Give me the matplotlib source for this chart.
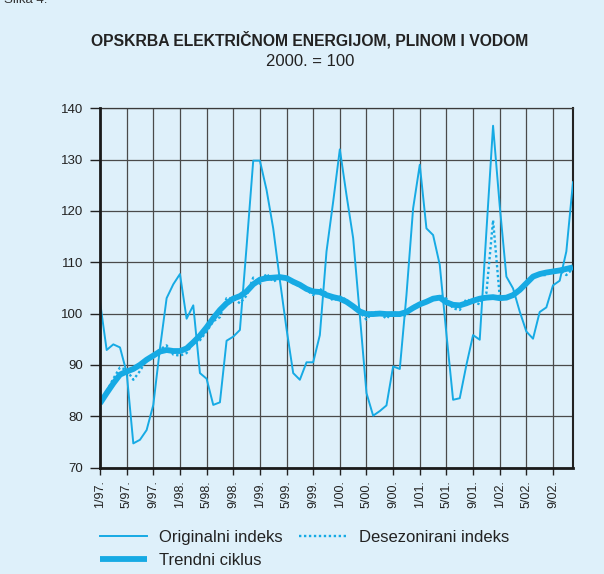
import matplotlib
matplotlib.use("Agg")
import matplotlib.pyplot as plt
import numpy as np

plt.rcParams['font.family'] = ['Liberation Sans', 'DejaVu Sans']

tick_labels = ["1/97.", "5/97.", "9/97.", "1/98.", "5/98.", "9/98.", "1/99.", "5/99.",
               "9/99.", "1/00.", "5/00.", "9/00.", "1/01.", "5/01.", "9/01.", "1/02.",
               "5/02.", "9/02."]

original = [102.3, 92.9, 94.0, 93.4, 88.5, 74.7, 75.4, 77.3, 82.2, 93.2, 103.0, 105.7,
            107.7, 99.0, 101.6, 88.4, 87.3, 82.2, 82.7, 94.7, 95.5, 96.8, 113.0, 129.8,
            129.8, 124.1, 116.6, 106.5, 97.0, 88.4, 87.1, 90.5, 90.5, 95.8, 112.1, 121.8,
            132.0, 123.1, 114.7, 99.7, 84.5, 80.1, 81.0, 82.1, 89.7, 89.2, 103.6, 120.5,
            129.0, 116.6, 115.3, 109.5, 96.0, 83.2, 83.5, 90.0, 95.8, 94.9, 116.0, 136.6,
            121.0, 107.2, 104.9, 100.4, 96.5, 95.1, 100.3, 101.2, 105.5, 106.4, 112.1, 125.6]

desezonirani = [82.3, 84.8, 87.3, 89.5, 89.0, 87.1, 88.8, 91.0, 92.0, 93.0, 93.8, 92.0,
                91.8, 92.3, 94.3, 94.8, 96.5, 98.5, 99.3, 103.0, 103.0, 102.0, 103.5, 107.0,
                105.8, 107.8, 106.2, 107.0, 106.9, 105.9, 105.3, 104.6, 103.6, 104.8, 104.0, 102.5,
                103.3, 102.7, 101.0, 100.3, 98.8, 100.4, 100.1, 99.0, 100.4, 99.7, 99.6, 101.4,
                102.0, 102.2, 102.7, 103.6, 102.9, 101.0, 100.7, 102.8, 102.3, 101.8, 104.0, 118.2,
                103.3, 103.0, 103.3, 104.3, 105.6, 107.2, 107.5, 107.5, 108.2, 108.5, 107.5, 108.8]

trend = [82.5, 84.5, 86.4, 88.1, 88.7, 89.2, 90.0, 91.0, 91.8, 92.6, 92.9, 92.7,
         92.7, 93.2, 94.4, 95.7, 97.3, 99.1, 100.7, 102.0, 102.9, 103.4, 104.3, 105.7,
         106.6, 106.9, 107.0, 107.1, 106.9, 106.2, 105.6, 104.8, 104.3, 104.2, 103.6, 103.2,
         102.9, 102.3, 101.4, 100.4, 99.9, 99.9, 100.0, 99.9, 99.9, 99.9, 100.3, 101.1,
         101.8, 102.3, 102.9, 103.1, 102.2, 101.7, 101.6, 102.0, 102.5, 102.9, 103.1, 103.2,
         103.0, 103.1, 103.6, 104.6, 105.9, 107.2, 107.7, 108.0, 108.2, 108.4, 108.7, 109.0]

BG = '#def0fa'
LC = '#16aae4'
TXT = '#222222'

fig = plt.figure(figsize=(6.04, 5.74), dpi=100, facecolor=BG)
ax = fig.add_axes([100/604, 1 - 467.5/574, 473/604, 359.2/574])
ax.set_facecolor(BG)

x = np.arange(len(original))
ax.plot(x, original, color=LC, lw=1.4, zorder=3, label='Originalni indeks')
ax.plot(x, desezonirani, color=LC, lw=1.7, ls=(0, (1, 1.1)), zorder=3, label='Desezonirani indeks')
ax.plot(x, trend, color=LC, lw=4.2, zorder=4, solid_capstyle='butt', label='Trendni ciklus')

ax.set_xlim(0, len(original) - 1)
ax.set_ylim(70, 140)
ax.set_yticks(np.arange(70, 141, 10))
ax.set_xticks(np.arange(0, 4 * len(tick_labels), 4))
ax.set_xticklabels(tick_labels, rotation=90, fontsize=9)
ax.tick_params(axis='y', labelsize=9.5, length=7, width=1, pad=5, direction='out', colors=TXT)
ax.tick_params(axis='x', length=5, width=1, pad=4, direction='out', colors=TXT)

ax.grid(True, color='#4a4a4a', lw=0.9, zorder=1)
ax.set_axisbelow(True)
for s in ['left', 'bottom']:
    ax.spines[s].set_linewidth(2.0)
    ax.spines[s].set_color('#1a1a1a')
    ax.spines[s].set_zorder(5)
ax.spines['right'].set_linewidth(1.5)
ax.spines['right'].set_color('#222222')
ax.spines['top'].set_linewidth(0.9)
ax.spines['top'].set_color('#3a3a3a')

fig.text(0.513, 1 - 40/574, 'OPSKRBA ELEKTRIČNOM ENERGIJOM, PLINOM I VODOM',
         ha='center', va='center', fontsize=11.3, fontweight='bold', color=TXT)
fig.text(0.513, 1 - 62/574, '2000. = 100', ha='center', va='center', fontsize=12, color=TXT)
fig.text(4/604, 1.0, 'Slika 4.', ha='left', va='center', fontsize=9.5, color='#333333')

h, l = ax.get_legend_handles_labels()
order = [0, 2, 1]
leg = fig.legend([h[i] for i in order], [l[i] for i in order], ncol=2,
                 loc='upper left', bbox_to_anchor=(100/604, 1 - 530/574),
                 frameon=False, fontsize=12, handlelength=2.8, handletextpad=0.75,
                 columnspacing=1.0, labelspacing=0.5, borderpad=0, borderaxespad=0)
for t in leg.get_texts():
    t.set_color(TXT)

fig.savefig('out.png', dpi=100, facecolor=BG)
